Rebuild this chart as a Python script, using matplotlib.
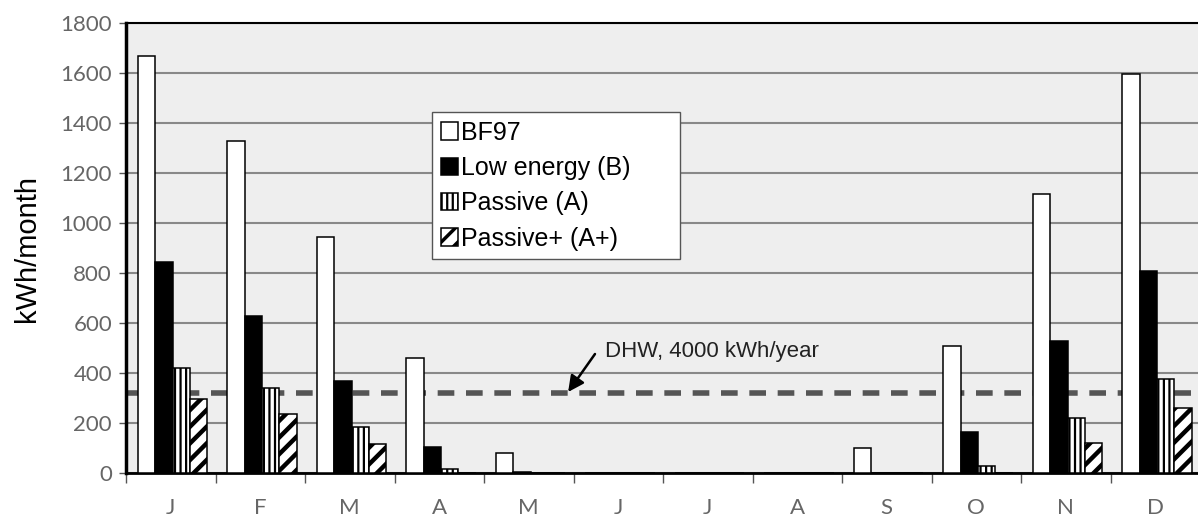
import matplotlib
matplotlib.use("Agg")
import matplotlib.pyplot as plt
import numpy as np

months = ["J", "F", "M", "A", "M", "J", "J", "A", "S", "O", "N", "D"]
bf97 = [1670, 1330, 945, 460, 80, 0, 0, 0, 100, 510, 1115, 1595]
low_energy = [845, 630, 370, 105, 5, 0, 0, 0, 0, 165, 530, 810]
passive = [420, 340, 185, 15, 0, 0, 0, 0, 0, 30, 220, 375]
passive_plus = [295, 235, 115, 0, 0, 0, 0, 0, 0, 0, 120, 260]
series_names = ["BF97", "Low energy (B)", "Passive (A)", "Passive+ (A+)"]
dhw_level = 320
yticks = list(range(0, 1801, 200))

plt.rcParams["hatch.linewidth"] = 1.6

fig = plt.figure(figsize=(11.98, 5.19), dpi=100)
ax = fig.add_axes([126 / 1198, 46 / 519, 1074 / 1198, 450 / 519])
ax.set_facecolor("#eeeeee")

x = np.arange(len(months))
w = 0.193
shift = 0.02
styles = [
    dict(color="white", hatch=None),
    dict(color="black", hatch=None),
    dict(color="white", hatch="|||"),
    dict(color="white", hatch="//"),
]
all_series = [bf97, low_energy, passive, passive_plus]
for k, (vals, name, st) in enumerate(zip(all_series, series_names, styles)):
    bars = ax.bar(x + shift + (k - 1.5) * w, vals, width=w, color=st["color"],
                  edgecolor="black", linewidth=1.1, hatch=st["hatch"],
                  label=name, zorder=3)
    if k == 3:
        for b in bars:
            b.set_hatch_linewidth(3.2)

# DHW line
ax.axhline(dhw_level, color="#555555", lw=4, dashes=(3.0, 2.1),
           solid_capstyle="butt", dash_capstyle="butt", zorder=2)
ax.annotate("", xy=(4.44, 324), xytext=(4.74, 476),
            arrowprops=dict(arrowstyle="-|>", color="black", lw=1.8,
                            mutation_scale=24, shrinkA=0, shrinkB=0), zorder=4)
ax.text(4.85, 488, "DHW, 4000 kWh/year", ha="left", va="center",
        fontsize=16, family="Liberation Sans", color="#222222", zorder=4)

ax.set_xlim(-0.5, 11.5)
ax.set_ylim(0, 1800)
ax.set_yticks(yticks)
ax.yaxis.grid(True, color="#888888", lw=1.5, zorder=1)
ax.set_axisbelow(True)

ax.set_xticks(x)
ax.set_xticklabels(months)
ax.set_xticks(np.arange(13) - 0.5, minor=True)
ax.tick_params(axis="x", which="major", length=0, pad=18)
ax.tick_params(axis="x", which="minor", length=7, width=1, color="#555555")
ax.tick_params(axis="y", length=5, width=1, color="#555555", pad=5)
for lab in ax.get_xticklabels() + ax.get_yticklabels():
    lab.set_fontfamily("Lato")
    lab.set_fontsize(16)
    lab.set_color("#666666")

for s in ["left", "bottom", "top"]:
    ax.spines[s].set_color("black")
ax.spines["left"].set_linewidth(2.5)
ax.spines["bottom"].set_linewidth(2)
ax.spines["top"].set_linewidth(1.5)
ax.spines["right"].set_visible(False)

ax.set_ylabel("kWh/month", fontsize=21, family="Liberation Sans", labelpad=14)

leg = ax.legend(loc="upper left", bbox_to_anchor=(0.285, 0.48, 0.231, 0.322),
                mode="expand", fancybox=False,
                edgecolor="#555555", framealpha=1, prop=dict(family="Liberation Sans", size=18),
                handlelength=0.7, handleheight=0.7, handletextpad=0.1,
                labelspacing=0.45, borderpad=0.35, borderaxespad=0)
leg.get_frame().set_linewidth(1)
leg.set_zorder(5)
leg.legend_handles[3].set_hatch_linewidth(2.5)

fig.savefig("out.png", dpi=100)
